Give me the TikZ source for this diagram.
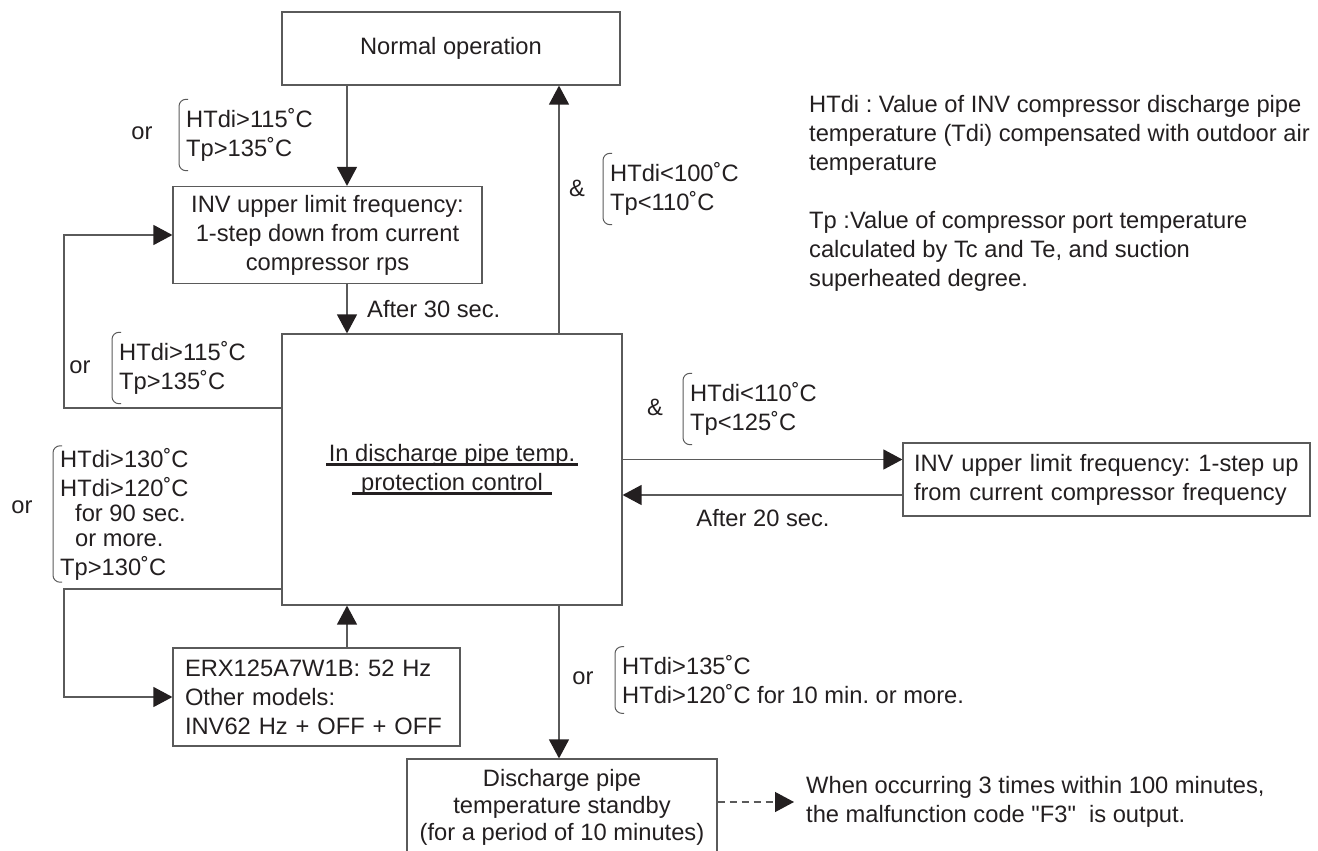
\documentclass[tikz,border=0pt]{standalone}
\usepackage{fontspec}
\setmainfont{Liberation Sans}[Ligatures=TeXOff]
\usetikzlibrary{positioning,arrows.meta}
\definecolor{ink}{RGB}{35,31,32}
\definecolor{wire}{RGB}{90,90,90}
% thick underline that runs through the descenders
\newcommand{\thickul}[1]{\leavevmode\setbox0=\hbox{#1}\rlap{\raisebox{-5pt}{\rule{\wd0}{3pt}}}\box0}
\frenchspacing

\begin{document}
\begin{tikzpicture}[x=1pt, y=-1pt, font=\fontsize{23.7}{29}\selectfont, text=ink,
    box/.style={draw=wire, line width=1.2pt, align=center, inner sep=0pt},
    cond/.style={anchor=west, align=left, inner xsep=7pt, inner ysep=9pt},
    lbl/.style={inner sep=0pt},
    arr/.style={draw=wire, line width=1.3pt, -{Triangle[length=19pt, width=20pt, color=ink]}},
    brace/.style={draw=wire, line width=1pt, rounded corners=7pt}]
    \useasboundingbox (0,0) rectangle (1318,851);

    % boxes
    \node[box, minimum width=338, minimum height=73] (norm) at (451,48.5) {Normal operation};
    \node[box, minimum width=309, minimum height=97] (down) at (327.5,235) {INV upper limit frequency:\\1-step down from current\\compressor rps};
    \node[box, minimum width=340, minimum height=271] (main) at (452,469.5)
        {\thickul{\hspace{2.5pt}In discharge pipe temp.\hspace{2.5pt}}\\\thickul{\hspace{9pt}protection control\hspace{9pt}}};
    \node[box, minimum width=407, minimum height=73, align=left, text width=385] (up) at (1106.5,479.5)
        {INV upper limit frequency: 1-step up\\from current compressor frequency};
    \node[box, minimum width=287, minimum height=98, align=left, text width=263] (erx) at (316.5,697)
        {ERX125A7W1B: 52 Hz\\Other models:\\INV62 Hz + OFF + OFF};
    \node[box, minimum width=310, minimum height=96, font=\fontsize{23.7}{27}\selectfont] (stby) at (562,807)
        {Discharge pipe\\temperature standby\\(for a period of 10 minutes)};

    % notes
    \node[lbl, anchor=west, align=left] (legend) at (809,193)
        {HTdi : Value of INV compressor discharge pipe\\temperature (Tdi) compensated with outdoor air\\temperature\\[29pt]%
         Tp :Value of compressor port temperature\\calculated by Tc and Te, and suction\\superheated degree.};
    \node[lbl, anchor=west, align=left] (note) at (806,802)
        {When occurring 3 times within 100 minutes,\\the malfunction code "F3"\ \ is output.};

    % conditions
    \node[cond] (c1) at (179,135) {HTdi>115˚C\\Tp>135˚C};
    \node[lbl] (or1) at (142,133) {or};
    \node[cond] (c2) at (112,368) {HTdi>115˚C\\Tp>135˚C};
    \node[lbl] (or2) at (80,367) {or};
    \node[cond] (c3) at (603,189) {HTdi<100˚C\\Tp<110˚C};
    \node[lbl] (and1) at (577,188) {\&};
    \node[cond] (c4) at (683,409) {HTdi<110˚C\\Tp<125˚C};
    \node[lbl] (and2) at (655,407) {\&};
    \node[cond, inner ysep=2pt] (c5) at (53,514)
        {HTdi>130˚C\\HTdi>120˚C\\[-4pt]\hspace*{15pt}for 90 sec.\\[-4pt]\hspace*{15pt}or more.\\Tp>130˚C};
    \node[lbl] (or3) at (22,507) {or};
    \node[cond] (c6) at (615,680) {HTdi>135˚C\\HTdi>120˚C for 10 min. or more.};
    \node[lbl] (or4) at (583,678) {or};
    \foreach \c in {c1,c2,c3,c4,c5,c6}
        \draw[brace] ([xshift=9pt]\c.north west) -- (\c.north west) -- (\c.south west) -- ([xshift=9pt]\c.south west);

    \node[lbl, anchor=west] (wait30) at (367,309) {After 30 sec.};
    \node[lbl] (wait20) at (763,518) {After 20 sec.};

    % arrows
    \coordinate (colL) at (347,0);
    \coordinate (colR) at (559,0);
    \coordinate (loopL) at (64,0);
    \draw[arr] (norm.south -| colL) -- (down.north -| colL);
    \draw[arr] (down.south -| colL) -- (main.north -| colL);
    \draw[arr] (erx.north -| colL) -- (main.south -| colL);
    \draw[arr] (main.north -| colR) -- (norm.south -| colR);
    \draw[arr] (main.south -| colR) -- (stby.north -| colR);
    \draw[arr] ([yshift=61.5pt]main.west) -- ([yshift=61.5pt]main.west -| loopL) |- (down.west);
    \draw[arr] ([yshift=-119.5pt]main.west) -- ([yshift=-119.5pt]main.west -| loopL) |- (erx.west);
    \draw[arr] ([yshift=10pt]main.east) -- ([yshift=10pt]main.east -| up.west);
    \draw[arr] ([yshift=-15.5pt]up.west) -- ([yshift=-15.5pt]up.west -| main.east);
    \draw[arr, dash pattern=on 7pt off 5pt] (stby.east |- note.west) -- ([xshift=-12pt]note.west);
\end{tikzpicture}
\end{document}
